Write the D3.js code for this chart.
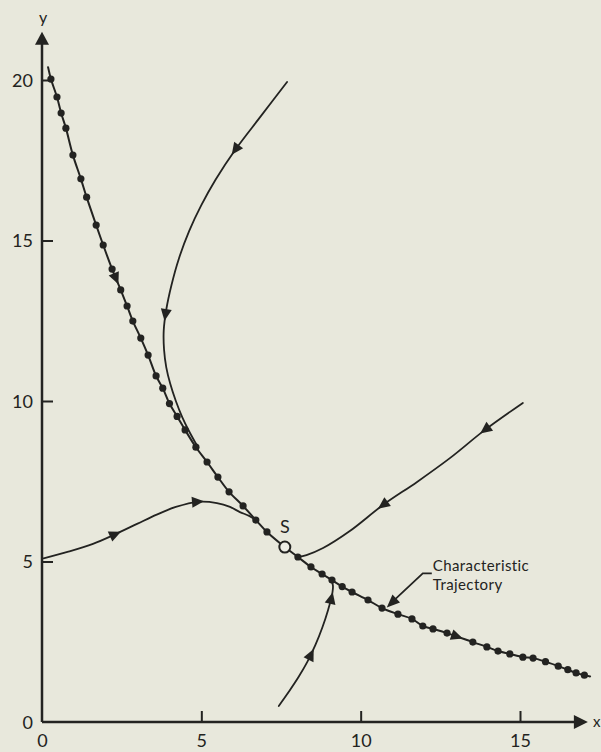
<!DOCTYPE html>
<html>
<head>
<meta charset="utf-8">
<script src="https://cdn.jsdelivr.net/npm/d3@7"></script>
<style>
  html, body { margin: 0; padding: 0; background: #e8e8dc; }
  svg { display: block; }
  text { font-family: Lato, "DejaVu Sans", sans-serif; fill: #232321; }
</style>
</head>
<body>
<svg id="chart" width="601" height="752"></svg>
<script>
// Computed points along the characteristic trajectory (x, y)
const characteristicDots = [
  [0.28,20.03],[0.47,19.47],[0.60,18.97],[0.75,18.50],[0.97,17.66],[1.22,16.92],
  [1.40,16.35],[1.70,15.48],[1.92,14.86],[2.20,14.11],[2.47,13.46],[2.67,12.96],
  [2.85,12.49],[3.10,11.96],[3.33,11.43],[3.58,10.78],[3.79,10.40],[4.00,9.92],
  [4.24,9.52],[4.49,9.10],[4.83,8.56],[5.18,8.10],[5.52,7.63],[5.87,7.17],
  [6.31,6.73],[6.71,6.29],[7.06,5.92],
  [8.03,5.14],[8.44,4.83],[8.79,4.61],[9.10,4.42],[9.42,4.22],[9.73,4.05],
  [10.23,3.80],[10.67,3.55],[11.17,3.36],[11.61,3.21],[11.95,2.99],[12.27,2.90],
  [12.71,2.77],[13.52,2.49],[13.96,2.34],[14.31,2.21],[14.68,2.12],[15.09,2.02],
  [15.41,1.99],[15.80,1.88],[16.20,1.74],[16.50,1.63],[16.76,1.53],[17.02,1.46]
];
const characteristicStart = [0.19, 20.4];
const characteristicEnd = [17.2, 1.42];

// Singular point S
const saddle = [7.62, 5.45];

// Other phase trajectories, each listed in the direction of motion
const trajectoryA = [
  [7.69,19.94],[6.85,18.85],[6.06,17.82],[5.45,16.90],[5.00,16.10],[4.62,15.30],
  [4.30,14.45],[4.06,13.60],[3.90,12.85],[3.82,12.20],[3.83,11.60],[3.90,11.05],
  [4.02,10.55],[4.20,10.00],[4.40,9.50],[4.62,9.05],[4.90,8.55]
];
const trajectoryB = [
  [0.05,5.10],[0.80,5.30],[1.60,5.55],[2.30,5.85],[3.00,6.18],[3.60,6.46],
  [4.20,6.70],[4.90,6.86],[5.49,6.82],[5.90,6.70],[6.21,6.54],[6.50,6.42],[6.75,6.26]
];
const trajectoryC = [
  [15.09,9.94],[13.90,9.10],[12.80,8.22],[11.77,7.48],[10.70,6.76],[9.66,5.95],
  [8.82,5.42],[8.30,5.20],[8.03,5.14]
];
const trajectoryD = [
  [7.43,0.50],[7.75,0.95],[8.05,1.40],[8.33,1.88],[8.58,2.40],[8.80,2.95],
  [8.98,3.50],[9.10,3.95],[9.13,4.25],[9.07,4.45]
];

// Direction arrows on each trajectory
const arrowsCharacteristic = [[2.29,13.80],[13.02,2.65]];
const arrowsA = [[6.06,17.82],[3.86,12.68]];
const arrowsB = [[2.30,5.85],[4.90,6.86]];
const arrowsC = [[13.90,9.10],[10.70,6.76]];
const arrowsD = [[8.45,2.10],[9.12,3.86]];

// Axis ticks
const xTicks = [0, 5, 10, 15];
const yTicks = [0, 5, 10, 15, 20];
const xAxisEnd = 17.13;
const yAxisEnd = 21.5;

const ink = "#232321";
const svg = d3.select("#chart");

const x = d3.scaleLinear().domain([0, 15]).range([42, 520]);
const y = d3.scaleLinear().domain([0, 20]).range([722, 80]);

// Axes: ticks point into the plot area
const gx = svg.append("g").attr("transform", `translate(0,${y(0)})`)
  .call(d3.axisBottom(x).tickValues(xTicks).tickSizeInner(-11).tickSizeOuter(0).tickPadding(12).tickFormat(d3.format("d")));
const gy = svg.append("g").attr("transform", `translate(${x(0)},0)`)
  .call(d3.axisLeft(y).tickValues(yTicks).tickSizeInner(-11).tickSizeOuter(0).tickPadding(9).tickFormat(d3.format("d")));
[gx, gy].forEach(g => {
  g.select(".domain").remove();
  g.selectAll(".tick line").attr("stroke", ink).attr("stroke-width", 2);
  g.selectAll(".tick text").style("font-size", "18px").attr("fill", ink);
});
gx.selectAll(".tick").filter(d => d === 0).select("line").remove();
gy.selectAll(".tick").filter(d => d === 0).select("line").remove();
gy.selectAll(".tick text").attr("dy", "0.36em");

// Axis lines with arrowheads
svg.append("line").attr("x1", x(0)).attr("y1", y(0)).attr("x2", x(xAxisEnd) - 8).attr("y2", y(0))
  .attr("stroke", ink).attr("stroke-width", 2.5);
svg.append("line").attr("x1", x(0)).attr("y1", y(0)).attr("x2", x(0)).attr("y2", y(yAxisEnd) + 8)
  .attr("stroke", ink).attr("stroke-width", 2.5);
svg.append("path").attr("d", "M0,0 L-14,-7 L-14,7 Z").attr("fill", ink)
  .attr("transform", `translate(${x(xAxisEnd)},${y(0)})`);
svg.append("path").attr("d", "M0,0 L-13,-7 L-13,7 Z").attr("fill", ink)
  .attr("transform", `translate(${x(0)},${y(yAxisEnd)}) rotate(-90)`);
svg.append("text").attr("x", x(xAxisEnd) + 5).attr("y", y(0) + 5).text("x").style("font-size", "15px");
svg.append("text").attr("x", x(0) + 1).attr("y", y(yAxisEnd) - 9).attr("text-anchor", "middle").text("y").style("font-size", "16px");

const line = d3.line().x(d => x(d[0])).y(d => y(d[1])).curve(d3.curveCatmullRom.alpha(0.5));

function drawCurve(points, width) {
  return svg.append("path").datum(points).attr("d", line)
    .attr("fill", "none").attr("stroke", ink).attr("stroke-width", width)
    .attr("stroke-linecap", "round");
}

// Arrowhead placed on a path at the point nearest to a data position, aligned with the path direction
function drawArrows(pathSel, positions) {
  const node = pathSel.node();
  const L = node.getTotalLength();
  positions.forEach(pos => {
    const px = x(pos[0]), py = y(pos[1]);
    let best = 0, bd = Infinity;
    for (let l = 0; l <= L; l += 0.5) {
      const p = node.getPointAtLength(l);
      const d = (p.x - px) ** 2 + (p.y - py) ** 2;
      if (d < bd) { bd = d; best = l; }
    }
    const p0 = node.getPointAtLength(Math.max(0, best - 3));
    const p1 = node.getPointAtLength(Math.min(L, best + 3));
    const p = node.getPointAtLength(best);
    const ang = Math.atan2(p1.y - p0.y, p1.x - p0.x) * 180 / Math.PI;
    svg.append("path").attr("d", "M6,0 L-6,-5.5 L-6,5.5 Z").attr("fill", ink)
      .attr("transform", `translate(${p.x},${p.y}) rotate(${ang})`);
  });
}

// Characteristic trajectory through S
const before = characteristicDots.filter(d => d[0] < saddle[0]);
const after = characteristicDots.filter(d => d[0] > saddle[0]);
const characteristicLine = [characteristicStart, ...before, saddle, ...after, characteristicEnd];
const charPath = drawCurve(characteristicLine, 2);

const pathA = drawCurve(trajectoryA, 1.8);
const pathB = drawCurve(trajectoryB, 1.8);
const pathC = drawCurve(trajectoryC, 1.8);
const pathD = drawCurve(trajectoryD, 1.8);

svg.append("g").selectAll("circle").data(characteristicDots).join("circle")
  .attr("cx", d => x(d[0])).attr("cy", d => y(d[1])).attr("r", 3.6).attr("fill", ink);

drawArrows(charPath, arrowsCharacteristic);
drawArrows(pathA, arrowsA);
drawArrows(pathB, arrowsB);
drawArrows(pathC, arrowsC);
drawArrows(pathD, arrowsD);

// Point S
svg.append("circle").attr("cx", x(saddle[0])).attr("cy", y(saddle[1])).attr("r", 5.5)
  .attr("fill", "#eeeee6").attr("stroke", ink).attr("stroke-width", 2);
svg.append("text").attr("x", x(saddle[0])).attr("y", y(saddle[1]) - 14)
  .attr("text-anchor", "middle").text("S").style("font-size", "18px");

// Label with leader arrow pointing at the characteristic trajectory
const tip = [10.82, 3.57];
const tx = x(tip[0]), ty = y(tip[1]);
const elbowX = tx + 36, elbowY = ty - 34;
svg.append("path").attr("d", `M${elbowX + 9},${elbowY} L${elbowX},${elbowY} L${tx + 5},${ty - 5}`)
  .attr("fill", "none").attr("stroke", ink).attr("stroke-width", 1.8);
svg.append("path").attr("d", "M0,0 L-13,-5.5 L-13,5.5 Z").attr("fill", ink)
  .attr("transform", `translate(${tx},${ty}) rotate(${Math.atan2(ty - elbowY, tx - elbowX) * 180 / Math.PI})`);
svg.append("text").attr("x", elbowX + 10).attr("y", elbowY - 2)
  .style("font-size", "15px").style("letter-spacing", "0.4px").text("Characteristic");
svg.append("text").attr("x", elbowX + 10).attr("y", elbowY + 17)
  .style("font-size", "15px").style("letter-spacing", "0.4px").text("Trajectory");
</script>
</body>
</html>
